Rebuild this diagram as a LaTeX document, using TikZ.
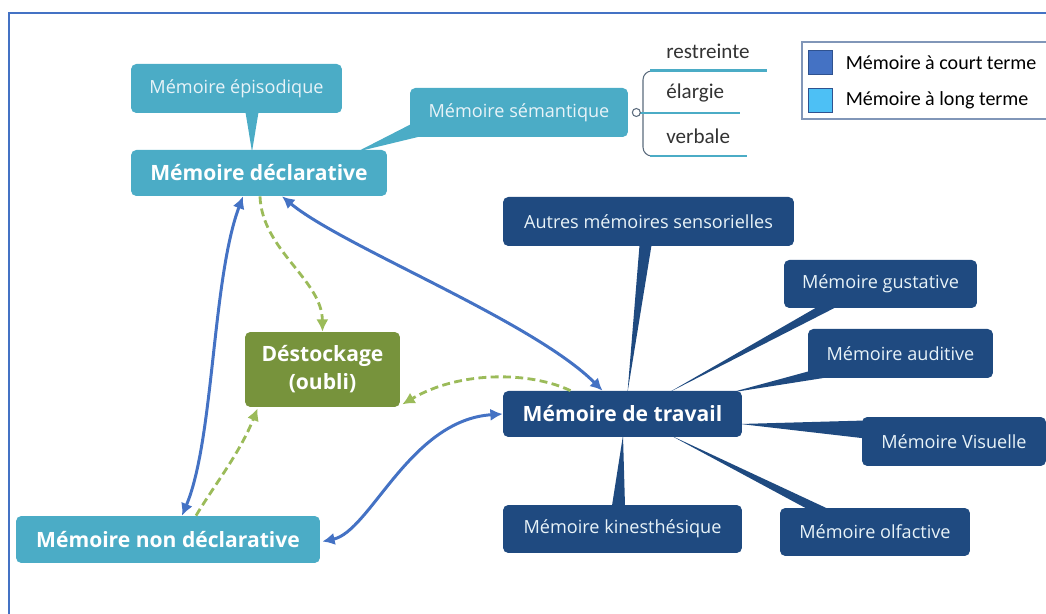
\documentclass[tikz,border=0pt]{standalone}
\usepackage{fontspec}
\setmainfont{Open Sans}
\newfontfamily\legfont{Carlito}
\usetikzlibrary{arrows.meta,calc,backgrounds,positioning}

\begin{document}
\begin{tikzpicture}[x=0.02cm, y=-0.02cm,
	box/.style={rounded corners=3pt, inner sep=0pt, align=center, font=\fontsize{10.3}{12}\selectfont},
	longbox/.style={box, fill=longcol, text=boxtxt},
	courtbox/.style={box, fill=courtcol, text=boxtxt},
	titre/.style={font=\fontsize{12}{16}\selectfont\bfseries, text=white},
	fleche/.style={draw=linkcol, line width=1.7pt, {Latex[length=7pt,width=7pt]}-{Latex[length=7pt,width=7pt]}},
	oubli/.style={draw=dashcol, line width=1.6pt, dash pattern=on 4.5pt off 2.5pt, -{Latex[length=7pt,width=7pt]}},
	souligne/.style={draw=longcol, line width=1.7pt},
	brk/.style={draw=brkcol, line width=0.6pt},
	mot/.style={anchor=west, inner sep=0pt, text=motcol, font=\legfont\fontsize{12}{14}\selectfont},
	carre/.style={draw=carrebord, line width=0.5pt, minimum size=0.48cm, inner sep=0pt},
	legtxt/.style={inner sep=0pt, text=black, font=\legfont\fontsize{11.4}{14}\selectfont},
	cadre/.style={draw=linkcol, line width=1.1pt}]
	\definecolor{longcol}{HTML}{4BACC6}
	\definecolor{courtcol}{HTML}{1F4A80}
	\definecolor{oublicol}{HTML}{77933C}
	\definecolor{linkcol}{HTML}{4472C4}
	\definecolor{dashcol}{HTML}{9BBB59}
	\definecolor{boxtxt}{HTML}{E8F3F8}
	\definecolor{brkcol}{HTML}{5B6B7D}
	\definecolor{motcol}{HTML}{333333}
	\definecolor{carrebord}{HTML}{2F528F}
	\definecolor{legclair}{HTML}{4DC0F5}
	\definecolor{legbord}{HTML}{8196B8}
	\useasboundingbox (0,0) rectangle (1046,614);
	\draw[cadre] (9,614) -- (9,13) -- (1046,13);
	
	% memoire a long terme
	\node[longbox, minimum width=4.22cm, minimum height=0.98cm] (epi) at (236.5,88.5) {Mémoire épisodique};
	\node[longbox, titre, minimum width=5.12cm, minimum height=0.92cm] (decl) at (259,173) {Mémoire déclarative};
	\node[longbox, minimum width=4.36cm, minimum height=0.98cm] (sem) at (519,112.5) {Mémoire sémantique};
	\node[longbox, titre, minimum width=6.08cm, minimum height=0.94cm] (nondecl) at (168,539.5) {Mémoire non déclarative};
	\node[box, titre, fill=oublicol, minimum width=3.10cm, minimum height=1.50cm] (desto) at (322.5,369.5) {Déstockage\\(oubli)};
	
	% memoire a court terme
	\node[courtbox, minimum width=5.82cm, minimum height=0.98cm] (autres) at (648.5,221.5) {Autres mémoires sensorielles};
	\node[courtbox, minimum width=3.86cm, minimum height=0.96cm] (gust) at (880.5,284) {Mémoire gustative};
	\node[courtbox, minimum width=3.70cm, minimum height=0.98cm] (audi) at (900.5,353.5) {Mémoire auditive};
	\node[courtbox, titre, minimum width=4.78cm, minimum height=0.92cm] (trav) at (622.5,414) {Mémoire de travail};
	\node[courtbox, minimum width=3.68cm, minimum height=0.98cm] (visu) at (954,441.5) {Mémoire Visuelle};
	\node[courtbox, minimum width=4.78cm, minimum height=0.96cm] (kine) at (622.5,529) {Mémoire kinesthésique};
	\node[courtbox, minimum width=3.80cm, minimum height=0.96cm] (olf) at (875,532) {Mémoire olfactive};
	
	\begin{scope}[on background layer]
		\fill[longcol] ($(epi.south)+(9,-1)$) -- ($(epi.south)+(22,-1)$) -- ($(decl.north)+(-7,2)$) -- cycle;
		\fill[longcol] ($(sem.south west)+(1,-13)$) -- ($(sem.south west)+(11,-1)$) -- ($(decl.north east)+(-30,2)$) -- cycle;
		\fill[courtcol] ($(autres.south)+(-9,-1)$) -- ($(autres.south)+(3,-1)$) -- ($(trav.north)+(5,2)$) -- cycle;
		\fill[courtcol] ($(gust.south west)+(33,-1)$) -- ($(gust.south west)+(52,-1)$) -- ($(trav.north)+(46,2)$) -- cycle;
		\fill[courtcol] ($(audi.south west)+(1,-7)$) -- ($(audi.south west)+(20,-1)$) -- ($(trav.north east)+(-12,2)$) -- cycle;
		\fill[courtcol] ($(visu.west)+(4,-21)$) -- ($(visu.west)+(4,-3)$) -- ($(trav.east)+(-2,10)$) -- cycle;
		\fill[courtcol] ($(kine.north)+(-10.5,1)$) -- ($(kine.north)+(2.5,1)$) -- ($(trav.south)+(0.5,-2)$) -- cycle;
		\fill[courtcol] ($(olf.north west)+(27,1)$) -- ($(olf.north west)+(48,1)$) -- ($(trav.south)+(48,-2)$) -- cycle;
	\end{scope}
	
	% fleches
	\draw[fleche] ($(decl.south)+(-16,0)$) .. controls +(-31,83) and +(32,-76) .. ($(nondecl.north)+(14,0)$);
	\draw[fleche] ($(decl.south)+(23,0)$) .. controls +(60,50) and +(-70,-70) .. ($(trav.north)+(-20,0)$);
	\draw[fleche] ($(nondecl.east)+(2,2)$) .. controls +(48,-10) and +(-93,6) .. (trav.west);
	\draw[oubli] ($(decl.south)+(1,0)$) .. controls +(2,54) and +(-0.5,-52) .. (desto.north);
	\draw[oubli] ($(nondecl.north)+(28,0)$) .. controls +(18,-30) and +(-18,45) .. ($(desto.south west)+(13,1)$);
	\draw[oubli] ($(trav.north)+(-52,0)$) .. controls +(-40,-19) and +(58,-34) .. ($(desto.south east)+(2,-3)$);
	
	% semantique
	\draw[brk, rounded corners=5] (655,71) -- (643,71) -- (643,156) -- (655,156);
	\draw[souligne] (650,71) -- (767,71);
	\draw[souligne] (640,113) -- (740,113);
	\draw[souligne] (650,156) -- (747,156);
	\draw[brk, fill=white] ($(sem.east)+(8,0)$) circle (4);
	\node[mot] (restr) at (666,51) {restreinte};
	\node[mot] (elarg) at (666,93) {élargie};
	\node[mot] (verb) at (666,136) {verbale};
	
	% legende
	\draw[draw=legbord, line width=0.6pt, fill=white] (802,42) rectangle (1052,119);
	\node[carre, fill=linkcol] (lc) at (820,62.5) {};
	\node[carre, fill=legclair] (ll) at (820,100) {};
	\node[legtxt, right=0.26cm of lc] {Mémoire à court terme};
	\node[legtxt, right=0.26cm of ll] {Mémoire à long terme};
\end{tikzpicture}
\end{document}
